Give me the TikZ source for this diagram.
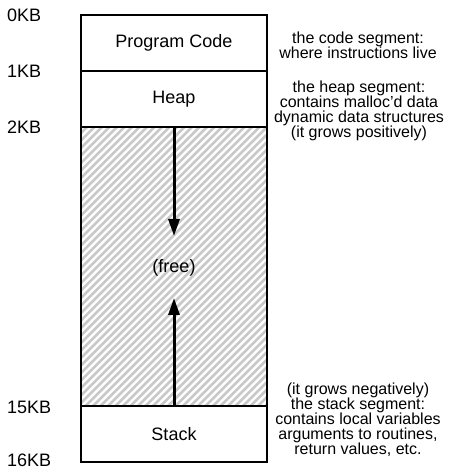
\documentclass[tikz,border=0pt]{standalone}
\usepackage{fontspec}
\setmainfont{Liberation Sans}
\usetikzlibrary{arrows.meta}
\begin{document}
\begin{tikzpicture}[x=1pt,y=1pt,
  seg/.style={draw=black,line width=1.5pt,minimum width=186pt,inner sep=0pt,outer sep=0pt,font=\fontsize{18}{18}\selectfont},
  kb/.style={anchor=west,inner sep=0pt,font=\fontsize{18}{18}\selectfont},
  note/.style={align=center,inner sep=0pt,font=\fontsize{16}{15}\selectfont},
  growarrow/.style={line width=3pt,-{Triangle[length=17pt,width=11pt]}}]
\useasboundingbox (0,0) rectangle (451,469);
% free region with hatching
\begin{scope}
\clip (81,63) rectangle (267,342);
\foreach \i in {-300,-292.5,...,270} \draw[line width=2.6pt,gray!42] (\i,60) -- (\i+300,360);
\end{scope}
\node[seg,minimum height=279pt] (free) at (174,202.5) {};
\node[inner sep=0pt,font=\fontsize{18}{18}\selectfont] (freetxt) at (174,201) {(free)};
\node[seg,minimum height=56pt,fill=white] (code) at (174,426) {Program Code};
\node[seg,minimum height=56pt,fill=white] (heap) at (174,370) {Heap};
\node[seg,minimum height=56pt,fill=white] (stack) at (174,35) {Stack};
% arrows
\coordinate (dtip) at (174,233);
\coordinate (utip) at (174,171);
\draw[growarrow] (heap.south) -- (dtip);
\draw[growarrow] (stack.north) -- (utip);
% address labels
\node[kb] (k0) at (7,454) {0KB};
\node[kb] (k1) at (7,398) {1KB};
\node[kb] (k2) at (7,342) {2KB};
\node[kb] (k15) at (7,62) {15KB};
\node[kb] (k16) at (7,9) {16KB};
% notes
\node[note] (ncode) at (358,424) {the code segment:\\where instructions live};
\node[note] (nheap) at (359,358.5) {the heap segment:\\contains malloc'd data\\dynamic data structures\\(it grows positively)};
\node[note] (nstack) at (358,49) {(it grows negatively)\\the stack segment:\\contains local variables\\arguments to routines,\\return values, etc.};
\end{tikzpicture}
\end{document}
